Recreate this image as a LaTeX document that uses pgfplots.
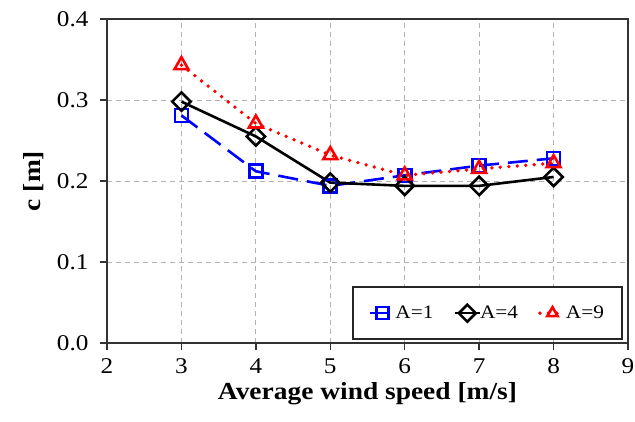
\documentclass[border=0pt]{standalone}
\usepackage{fontspec}
\setmainfont{Liberation Serif}[FakeStretch=1.12]
\usepackage{pgfplots}
\pgfplotsset{compat=1.18}
\definecolor{myblue}{RGB}{0,0,255}
\definecolor{myred}{RGB}{255,0,0}
\begin{document}
\begin{tikzpicture}
\begin{axis}[name=ax, scale only axis, width=521pt, height=324pt,
  xmin=2, xmax=9, ymin=0, ymax=0.4,
  xtick={2,3,4,5,6,7,8,9}, ytick={0,0.1,0.2,0.3,0.4},
  yticklabel style={xshift=-8pt, /pgf/number format/fixed, /pgf/number format/fixed zerofill, /pgf/number format/precision=1},
  /pgf/number format/assume math mode=true,
  ticklabel style={font=\fontsize{22.5}{24}\selectfont},
  xticklabel style={yshift=-5pt},
  grid=major, grid style={gray!60, dash pattern=on 5pt off 4pt, line width=0.9pt},
  axis line style={line width=1.8pt, black!80},
  tick style={line width=1.4pt, black!80},
  major tick length=7pt, tick align=outside,
  xtick pos=bottom, ytick pos=left,
  xlabel={\textbf{Average wind speed [m/s]}}, ylabel={\textbf{c [m]}},
  label style={font=\fontsize{24.5}{26}\selectfont},
  xlabel style={yshift=-2pt}, ylabel style={yshift=6pt},
  legend columns=3,
  legend image code/.code={\draw[mark repeat=2, mark phase=2, #1, mark size=6pt] plot coordinates {(0pt,0pt) (12.5pt,0pt) (25pt,0pt)};},
  legend style={at={(0.99,0.009)}, anchor=south east, draw=black!85, line width=1.8pt,
    font=\fontsize{19}{21}\selectfont, inner xsep=16pt, inner ysep=17pt,
    /tikz/every even column/.append style={column sep=18pt},
    /tikz/every odd column/.append style={column sep=-3pt}},
  legend cell align=left,
]
\addplot[myblue, line width=2.6pt, dash pattern=on 20pt off 9pt, mark=square, mark size=6.5pt, mark options={solid, fill=white, line width=2.6pt}]
  coordinates {(3,0.281) (4,0.212) (5,0.194) (6,0.207) (7,0.219) (8,0.228)};
\addlegendentry{A=1}
\addplot[black, line width=2.6pt, mark=square, mark size=6.5pt, mark options={solid, fill=white, line width=2.6pt, rotate=45}]
  coordinates {(3,0.298) (4,0.255) (5,0.198) (6,0.194) (7,0.194) (8,0.205)};
\addlegendentry{A=4}
\addplot[myred, line width=3.8pt, line cap=round, dash pattern=on 0pt off 8.5pt, mark=triangle, mark size=8pt, mark options={solid, fill=white, line width=2.6pt}]
  coordinates {(3,0.343) (4,0.271) (5,0.232) (6,0.207) (7,0.215) (8,0.222)};
\addlegendentry{A=9}
\end{axis}
\pgfresetboundingbox
\path[use as bounding box] ([xshift=-107pt,yshift=-78pt]ax.south west) rectangle ([xshift=7pt,yshift=19pt]ax.north east);
\end{tikzpicture}
\end{document}
